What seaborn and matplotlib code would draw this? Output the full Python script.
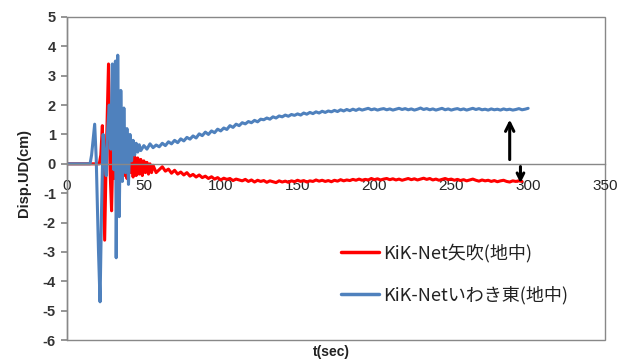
import numpy as np
import pandas as pd
import matplotlib
matplotlib.use("Agg")
import matplotlib.pyplot as plt
from matplotlib.patches import Rectangle
from matplotlib.lines import Line2D
import seaborn as sns

# ---- data ----
red_label = "KiK-Net矢吹(地中)"
blue_label = "KiK-Netいわき東(地中)"

t_red_early = [0, 21, 22, 23, 24.5, 25.5, 27, 28, 29, 30, 31, 32, 33, 34, 35, 36, 37, 38, 39, 40,
               41, 42, 43, 44, 45, 46, 47, 48, 49, 50, 51, 52, 53, 54, 55, 56, 58, 60]
d_red_early = [0, 0, 0.3, 1.3, -2.6, 0.2, 3.4, -0.2, -1.6, 0.8, -0.5, 0.3, -0.6, 0.4, -0.5, 0.3, -0.4, 0.3, -0.5, 0.4,
               -0.3, 0.3, -0.45, 0.25, -0.4, 0.2, -0.35, 0.15, -0.4, 0.1, -0.3, 0.05, -0.35, 0.0, -0.3, -0.05, -0.3, -0.2]
t_red_late = list(range(62, 297, 2))
d_red_late = [-0.1, -0.25, -0.18, -0.32, -0.22, -0.35, -0.28, -0.38, -0.3, -0.42,
              -0.36, -0.45, -0.38, -0.47, -0.42, -0.5, -0.44, -0.52, -0.47, -0.55,
              -0.49, -0.53, -0.5, -0.57, -0.52, -0.55, -0.58, -0.53, -0.6, -0.55,
              -0.62, -0.56, -0.6, -0.57, -0.63, -0.58, -0.61, -0.64, -0.58, -0.62,
              -0.59, -0.63, -0.58, -0.61, -0.56, -0.6, -0.57, -0.62, -0.58, -0.6,
              -0.55, -0.59, -0.56, -0.6, -0.57, -0.61, -0.56, -0.59, -0.54, -0.58,
              -0.55, -0.57, -0.53, -0.56, -0.52, -0.56, -0.53, -0.55, -0.5, -0.54,
              -0.51, -0.55, -0.52, -0.5, -0.54, -0.51, -0.55, -0.52, -0.56, -0.53,
              -0.5, -0.54, -0.51, -0.55, -0.52, -0.49, -0.53, -0.5, -0.55, -0.52,
              -0.56, -0.53, -0.5, -0.54, -0.52, -0.56, -0.53, -0.57, -0.54, -0.58,
              -0.55, -0.52, -0.56, -0.59, -0.55, -0.58, -0.56, -0.6, -0.57, -0.61,
              -0.58, -0.56, -0.6, -0.62, -0.58, -0.6, -0.58, -0.6]

t_blue_early = [0, 15, 16, 18, 19, 20.5, 21.5, 22.5, 23.5, 24.5, 25.5, 26.5, 27.5, 28.5, 29.5, 30.5, 31.5, 32,
                33, 34, 35, 36, 37, 38, 39, 40, 41, 42, 43, 44, 45, 46, 47, 48, 50, 52, 54, 56, 58, 60]
d_blue_early = [0, 0, 0.3, 1.35, 0.2, -3.0, -4.7, -1.5, 1.0, 0.2, -0.4, 1.2, 2.0, 0.5, 3.4, -0.2, 3.5, -3.2,
                3.7, -1.8, 2.5, -0.6, 1.9, -0.3, 1.2, -0.7, 1.0, 0.1, 0.8, 0.3, 0.7, 0.4, 0.65, 0.45, 0.62, 0.5,
                0.68, 0.55, 0.64, 0.58]
t_blue_late = list(range(62, 301, 2))
d_blue_late = [0.7, 0.62, 0.75, 0.68, 0.8, 0.72, 0.85, 0.78, 0.9, 0.84,
               0.95, 0.88, 1.02, 0.96, 1.08, 1.0, 1.12, 1.06, 1.18, 1.12,
               1.22, 1.17, 1.3, 1.24, 1.35, 1.3, 1.4, 1.36, 1.44, 1.4,
               1.48, 1.43, 1.52, 1.5, 1.56, 1.52, 1.6, 1.56, 1.63, 1.6,
               1.66, 1.62, 1.68, 1.65, 1.7, 1.66, 1.73, 1.69, 1.75, 1.71,
               1.77, 1.73, 1.79, 1.75, 1.8, 1.77, 1.82, 1.78, 1.84, 1.8,
               1.85, 1.81, 1.86, 1.82, 1.87, 1.83, 1.86, 1.89, 1.84, 1.87,
               1.83, 1.86, 1.88, 1.84, 1.87, 1.83, 1.86, 1.89, 1.85, 1.88,
               1.84, 1.87, 1.83, 1.86, 1.9, 1.85, 1.88, 1.84, 1.87, 1.83,
               1.86, 1.89, 1.84, 1.87, 1.83, 1.86, 1.88, 1.84, 1.87, 1.83,
               1.86, 1.89, 1.85, 1.88, 1.84, 1.86, 1.83, 1.87, 1.84, 1.86,
               1.83, 1.87, 1.84, 1.86, 1.83, 1.85, 1.88, 1.84, 1.86, 1.89]

x_ticks = [0, 50, 100, 150, 200, 250, 300, 350]
y_ticks = [-6, -5, -4, -3, -2, -1, 0, 1, 2, 3, 4, 5]

df = pd.concat([
    pd.DataFrame({"t": t_red_early + t_red_late, "disp": d_red_early + d_red_late, "series": red_label}),
    pd.DataFrame({"t": t_blue_early + t_blue_late, "disp": d_blue_early + d_blue_late, "series": blue_label}),
])

sns.set_theme(style="white")
plt.rcParams['font.family'] = ['Liberation Sans', 'Noto Sans CJK JP', 'DejaVu Sans']

fig = plt.figure(figsize=(6.3, 3.63), dpi=100)
ax = fig.add_axes([67/630, 1-340/363, (605-67)/630, (340-17)/363])

palette = {red_label: "#FF0000", blue_label: "#4F81BD"}
sns.lineplot(data=df, x="t", y="disp", hue="series", palette=palette, estimator=None,
             sort=False, linewidth=2.2, ax=ax, legend=False)

ax.set_xlim(0, 350)
ax.set_ylim(-6, 5)
ax.set_xticks(x_ticks)
ax.set_yticks(y_ticks)
ax.set_xticklabels([str(v) for v in x_ticks], fontweight='bold', fontsize=10.5, color='#333333')
ax.set_yticklabels([str(v) for v in y_ticks], fontweight='bold', fontsize=10.5, color='#333333')

for s in ['top', 'right']:
    ax.spines[s].set_visible(False)
ax.spines['bottom'].set_position(('data', 0))
ax.spines['bottom'].set_color('#888888')
ax.spines['left'].set_color('#888888')
ax.spines['bottom'].set_linewidth(1.0)
ax.spines['left'].set_linewidth(1.0)
ax.tick_params(axis='x', direction='in', length=4, color='#888888', pad=11)
ax.tick_params(axis='y', direction='out', length=4, color='#888888', pad=4, left=True)

ax.add_patch(Rectangle((0, 0), 1, 1, transform=ax.transAxes, fill=False,
                       edgecolor='#888888', linewidth=1.0, clip_on=False, zorder=0))

ax.set_xlabel("")
ax.set_ylabel("")
fig.text(24/630, 1-173/363, "Disp.UD(cm)", rotation=90, ha='center', va='center',
         fontweight='bold', fontsize=10.5, color='#222222')
fig.text(331/630, 1-352/363, "t(sec)", ha='center', va='center',
         fontweight='bold', fontsize=10, color='#222222')

# arrows
ax.annotate('', xy=(288, 1.6), xytext=(288, 0.05),
            arrowprops=dict(arrowstyle='->', lw=2.2, color='black', mutation_scale=15))
ax.annotate('', xy=(295, -0.75), xytext=(295, 0.0),
            arrowprops=dict(arrowstyle='->', lw=2.2, color='black', mutation_scale=12))

handles = [Line2D([], [], color="#FF0000", lw=2.5), Line2D([], [], color="#4F81BD", lw=2.5)]
leg = ax.legend(handles, [red_label, blue_label], loc='center left',
                bbox_to_anchor=(0.48, 0.205), frameon=False, handlelength=2.1,
                handletextpad=0.2, labelspacing=1.3,
                prop={'family': ['Noto Sans CJK JP', 'DejaVu Sans'], 'size': 13})
for txt in leg.get_texts():
    txt.set_color('#222222')

fig.savefig("out.png", dpi=100)
